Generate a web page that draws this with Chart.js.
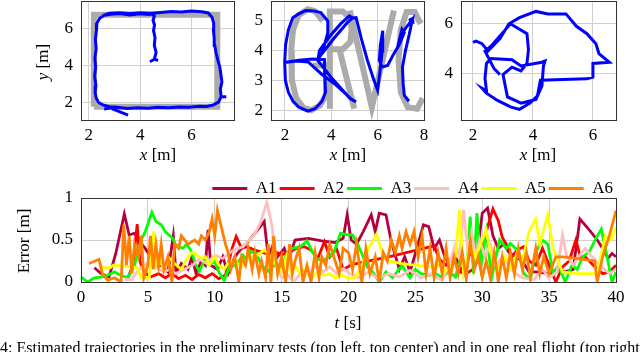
<!DOCTYPE html>
<html>
<head>
<meta charset="utf-8">
<script src="https://cdn.jsdelivr.net/npm/chart.js@4.4.0/dist/chart.umd.min.js"></script>
<style>
  body { margin: 0; width: 640px; height: 352px; overflow: hidden; background: #fff; position: relative; font-family: "Liberation Serif", serif; }
  canvas { position: absolute; }
  .lbl { position: absolute; font-size: 17px; white-space: nowrap; color: #000; transform: translate(-50%, -50%); }
  .rot { transform: translate(-50%, -50%) rotate(-90deg); }
  .cap { position: absolute; left: 0; top: 339px; font-size: 16px; white-space: nowrap; }
</style>
</head>
<body>
<canvas id="sq" width="240" height="170" style="left:0;top:0"></canvas>
<canvas id="grvc" width="200" height="170" style="left:240px;top:0"></canvas>
<canvas id="flight" width="200" height="170" style="left:440px;top:0"></canvas>
<canvas id="err" width="640" height="170" style="left:0;top:170px"></canvas>

<div class="lbl rot" style="left:43px;top:62px"><i>y</i> [m]</div>
<div class="lbl" style="left:158px;top:155px"><i>x</i> [m]</div>
<div class="lbl" style="left:348px;top:155px"><i>x</i> [m]</div>
<div class="lbl" style="left:538px;top:155px"><i>x</i> [m]</div>
<div class="lbl rot" style="left:24px;top:241px">Error [m]</div>
<div class="lbl" style="left:348px;top:323px"><i>t</i> [s]</div>
<div class="cap">4: Estimated trajectories in the preliminary tests (top left, top center) and in one real flight (top right)</div>

<script>
// ---- top left: square test ----
const sqTruthX = [2.2, 7.0, 7.0, 2.2, 2.2];
const sqTruthY = [1.75, 1.75, 6.75, 6.75, 1.75];
const sqX = [4.38, 4.55, 4.7, 4.55, 4.62, 4.55, 4.58, 4.52, 4.56, 4.50, 4.55, 4.52, 4.56, 4.50, 4.35, 4.0, 3.6, 3.2, 2.85, 2.6, 2.42, 2.32, 2.30, 2.26, 2.29, 2.24, 2.27, 2.23, 2.28, 2.25, 2.30, 2.38, 2.55, 2.8, 3.1, 3.5, 3.9, 4.3, 4.7, 5.1, 5.5, 5.9, 6.3, 6.6, 6.85, 7.05, 7.15, 7.12, 7.18, 7.14, 7.10, 7.02, 6.95, 6.9, 6.88, 6.85, 6.86, 6.8, 6.65, 6.4, 6.0, 5.6, 5.2, 4.8, 4.4, 4.0, 3.6, 3.2, 2.8, 2.55,
             null, 2.9, 3.53, null, 2.6, 3.0, null, 7.1, 7.35];
const sqY = [4.2, 4.33, 4.27, 4.33, 4.7, 5.1, 5.5, 5.9, 6.2, 6.45, 6.65, 6.72, 6.78, 6.8, 6.76, 6.8, 6.74, 6.82, 6.78, 6.72, 6.55, 6.3, 5.9, 5.4, 4.9, 4.4, 3.9, 3.4, 2.9, 2.5, 2.2, 1.98, 1.85, 1.75, 1.72, 1.66, 1.7, 1.67, 1.72, 1.7, 1.74, 1.73, 1.78, 1.76, 1.85, 2.0, 2.3, 2.7, 3.1, 3.5, 3.9, 4.3, 4.7, 5.1, 5.5, 5.9, 6.3, 6.6, 6.85, 6.92, 6.95, 6.9, 6.93, 6.88, 6.84, 6.86, 6.82, 6.86, 6.83, 6.7,
             null, 1.65, 1.3, null, 1.62, 1.72, null, 2.28, 2.3];
const sqTicksX = [2, 4, 6];
const sqTicksY = [2, 4, 6];

// ---- top center: GRVC letters ----
const grvcTruthX = [3.63, 3.3, 2.99, 2.6, 2.35, 2.27, 2.3, 2.49, 2.8, 3.13, 3.5, 3.78, 3.78, 3.2,
                    null, 3.94, 3.94, 4.5, 4.82, 4.88, 4.82, 4.5, 3.94, null, 4.35, 4.99,
                    null, 4.8, 5.75, 6.7,
                    null, 7.85, 7.6, 7.25, 7.0, 6.9, 7.0, 7.3, 7.7, 7.95];
const grvcTruthY = [5.0, 5.33, 5.39, 5.2, 4.7, 4.0, 3.0, 2.4, 2.08, 2.0, 2.15, 2.5, 3.5, 3.5,
                    null, 2.05, 5.32, 5.32, 5.1, 4.7, 4.3, 4.05, 4.05, null, 4.05, 2.05,
                    null, 5.35, 2.1, 5.35,
                    null, 4.9, 5.3, 5.3, 4.7, 3.7, 2.6, 2.1, 2.05, 2.4];
const grvcX = [3.28, 2.9, 2.56, 2.34, 2.15, 2.03, 1.99, 2.02, 2.15, 2.35, 2.6, 2.99, 3.3, 3.6, 3.75, 3.72, 3.71,
               3.2, 2.6, 1.99, 2.5, 3.0,
               3.6, 4.2, 4.9, 5.07, 4.8, 4.0, 3.42,
               3.49, 3.9, 4.4, 4.78, 4.92, 4.7, 4.1, 3.6,
               3.85, 3.85, 3.55, 3.28,
               null, 4.92, 5.07, 5.3, 5.55, 5.8, 6.0, 6.1, 6.2, 6.22, 6.12, 6.07, 6.2, 6.43, 6.7, 6.93, 7.15, 7.05, 6.95,
               7.2, 7.5, 7.35, 7.2, 7.07, 7.1, 7.15, 7.35,
               null, 7.35, 7.5, 7.53];
const grvcY = [5.33, 5.35, 5.22, 5.11, 4.7, 4.2, 3.6, 3.0, 2.6, 2.3, 2.1, 1.97, 2.05, 2.3, 2.6, 3.2, 3.7,
               3.72, 3.68, 3.6, 3.65, 3.62,
               3.2, 2.85, 2.35, 2.28, 2.4, 3.1, 3.67,
               4.0, 4.45, 4.9, 5.17, 5.1, 4.95, 4.4, 3.9,
               4.6, 5.0, 5.28, 5.33,
               null, 5.1, 5.11, 4.4, 3.7, 3.1, 2.67, 3.3, 4.0, 4.67, 4.2, 3.67, 3.45, 3.5, 3.9, 4.2, 4.61, 4.72, 4.4,
               4.75, 5.05, 4.5, 4.0, 3.44, 2.9, 2.5, 2.3,
               null, 5.02, 5.08, 4.9];
const grvcTicksX = [2, 4, 6, 8];
const grvcTicksY = [2, 3, 4, 5];

// ---- top right: real flight ----
const flightX = [2.0, 2.1, 2.3, 2.5, 2.9, 3.2, 3.55, 4.1, 4.5, 5.1, 5.45, 5.8, 6.1, 6.2, 6.55, 6.0, 6.0, 5.8, 5.0, 4.25,
                 4.15, 3.9, 3.55, 3.25, 2.8, 2.45, 2.3, 2.45, 2.4, 2.45, 2.6, 3.3, 3.6, 4.3, 4.4, 4.35, 4.3, 4.1,
                 3.6, 3.15, 3.0, 3.3, 3.6, 3.8, 3.85, 3.8, 3.25, 2.6, 2.4, 2.7, 2.9];
const flightY = [5.25, 5.3, 5.2, 4.9, 5.4, 6.0, 6.25, 6.5, 6.4, 6.4, 5.9, 5.6, 5.2, 4.8, 4.45, 4.4, 3.85, 3.78, 3.75, 3.72,
                 3.1, 2.8, 2.55, 2.65, 2.92, 3.2, 3.4, 3.3, 3.8, 4.4, 4.6, 4.55, 4.3, 4.45, 4.5, 4.3, 3.5, 2.95,
                 2.8, 3.05, 3.95, 4.25, 4.1, 4.4, 4.95, 5.6, 6.0, 5.1, 4.9, 4.2, 3.95];
const flightTicksX = [2, 4, 6];
const flightTicksY = [4, 6];

// ---- bottom: error over time ----
const seriesNames = ['A1', 'A2', 'A3', 'A4', 'A5', 'A6'];
const seriesColors = ['#b5003f', '#ff0000', '#00ff00', '#ffbfbf', '#ffff00', '#ff8000'];
const a1T = [1.0, 1.5, 2.1, 2.6, 3.24, 3.6, 3.97, 4.3, 4.6, 4.8, 5.2, 5.6, 6.0, 6.5, 6.9, 7.1, 7.5, 8.0, 8.3, 8.6, 9.0, 9.3, 9.5, 9.7, 10.2, 10.6, 11.0, 11.5, 12.0, 12.5, 13.0, 13.7, 14.0, 14.3, 14.7, 15.2, 15.5, 16.0, 17.0, 18.0, 19.0, 19.6, 19.9, 20.2, 20.6, 21.1, 21.7, 22.0, 22.3, 22.8, 23.2, 23.8, 24.2, 24.6, 25.2, 25.6, 26.0, 26.4, 26.8, 27.2, 27.6, 28.0, 28.4, 28.8, 29.2, 29.6, 30.0, 30.4, 30.8, 31.2, 31.6, 32.0, 32.5, 33.0, 33.5, 34.0, 35.0, 35.6, 36.2, 36.8, 37.3, 38.0, 38.6, 39.0, 39.4, 39.7, 40.0];
const a1V = [0.17, 0.1, 0.06, 0.34, 0.81, 0.56, 0.58, 0.52, 0.44, 0.4, 0.3, 0.18, 0.2, 0.12, 0.55, 0.1, 0.22, 0.15, 0.3, 0.1, 0.25, 0.2, 0.62, 0.2, 0.15, 0.3, 0.1, 0.3, 0.4, 0.48, 0.58, 0.72, 0.3, 0.42, 0.3, 0.4, 0.25, 0.5, 0.52, 0.49, 0.47, 0.52, 0.8, 0.5, 0.45, 0.6, 0.8, 0.6, 0.82, 0.8, 0.48, 0.15, 0.3, 0.12, 0.45, 0.68, 0.66, 0.4, 0.5, 0.3, 0.2, 0.3, 0.15, 0.2, 0.4, 0.3, 0.82, 0.88, 0.55, 0.4, 0.45, 0.35, 0.3, 0.25, 0.12, 0.12, 0.1, 0.15, 0.12, 0.15, 0.75, 0.62, 0.5, 0.4, 0.28, 0.34, 0.3];
const a2T = [3.5, 3.9, 4.2, 4.4, 4.7, 5.2, 5.8, 6.3, 6.8, 7.3, 7.8, 8.3, 8.8, 9.3, 9.8, 10.3, 10.8, 11.3, 11.6, 12.0, 12.4, 13.0, 13.6, 14.3, 14.6, 15.1, 15.6, 16.1, 16.7, 17.2, 17.7, 18.2, 18.6, 19.1, 19.6, 20.3, 23.0, 26.4, 26.8, 27.3, 27.8, 28.3, 28.8, 29.3, 29.8, 30.3, 30.8, 31.2, 31.5, 31.8, 32.2, 32.6, 33.1, 33.5, 34.0, 34.5, 35.0, 35.5, 36.0, 36.5, 37.0, 37.4, 37.7, 38.3, 39.0, 39.5, 40.0];
const a2V = [0.05, 0.2, 0.69, 0.25, 0.12, 0.06, 0.1, 0.05, 0.1, 0.04, 0.08, 0.03, 0.09, 0.05, 0.1, 0.04, 0.08, 0.4, 0.54, 0.4, 0.42, 0.38, 0.35, 0.32, 0.35, 0.33, 0.36, 0.4, 0.42, 0.38, 0.28, 0.48, 0.3, 0.4, 0.15, 0.21, 0.3, 0.43, 0.27, 0.2, 0.3, 0.12, 0.1, 0.15, 0.3, 0.6, 0.87, 0.73, 0.53, 0.45, 0.3, 0.38, 0.42, 0.25, 0.2, 0.4, 0.2, 0.0, 0.18, 0.25, 0.5, 0.26, 0.3, 0.2, 0.1, 0.12, 0.2];
const a3T = [0.0, 0.5, 1.0, 1.6, 2.0, 2.5, 2.85, 3.5, 4.0, 4.5, 4.8, 5.3, 5.6, 6.0, 6.3, 6.85, 7.1, 7.6, 7.9, 8.2, 8.6, 8.85, 9.2, 9.6, 10.0, 10.3, 10.7, 11.1, 11.6, 12.1, 12.4, 12.7, 13.1, 13.5, 14.0, 14.6, 15.0, 15.4, 15.8, 16.4, 16.9, 17.3, 17.6, 18.1, 18.5, 18.9, 19.4, 19.9, 20.3, 20.6, 21.1, 21.4, 21.8, 22.3, 22.8, 23.3, 24.0, 24.3, 24.6, 25.0, 25.4, 26.0, 26.5, 27.0, 27.5, 28.0, 28.4, 28.8, 29.1, 29.35, 29.6, 29.9, 30.3, 30.7, 31.3, 31.8, 32.1, 32.7, 33.1, 33.6, 34.0, 34.5, 34.9, 35.3, 35.7, 36.2, 36.7, 37.1, 37.5, 38.0, 38.5, 38.9, 39.3, 39.7, 40.0];
const a3V = [0.06, 0.0, 0.05, 0.06, 0.08, 0.12, 0.09, 0.05, 0.2, 0.5, 0.6, 0.83, 0.72, 0.68, 0.6, 0.52, 0.44, 0.4, 0.45, 0.38, 0.2, 0.13, 0.25, 0.2, 0.25, 0.12, 0.02, 0.18, 0.2, 0.32, 0.26, 0.36, 0.34, 0.2, 0.13, 0.22, 0.18, 0.34, 0.4, 0.42, 0.49, 0.36, 0.28, 0.25, 0.3, 0.35, 0.58, 0.56, 0.56, 0.48, 0.3, 0.18, 0.12, 0.0, 0.12, 0.05, 0.2, 0.12, 0.05, 0.15, 0.1, 0.08, 0.1, 0.05, 0.13, 0.06, 0.3, 0.05, 0.78, 0.1, 0.82, 0.2, 0.6, 0.05, 0.5, 0.4, 0.46, 0.37, 0.1, 0.03, 0.36, 0.5, 0.45, 0.1, 0.2, 0.0, 0.2, 0.15, 0.3, 0.36, 0.52, 0.63, 0.33, 0.0, 0.12];
const a4T = [3.3, 3.8, 4.1, 4.5, 4.9, 5.5, 6.2, 6.6, 7.1, 7.6, 8.35, 8.85, 9.4, 10.0, 10.6, 11.4, 12.1, 12.9, 13.4, 13.6, 13.9, 14.3, 14.5, 15.0, 15.5, 15.9, 16.4, 17.1, 17.6, 18.1, 18.6, 19.1, 19.6, 20.1, 20.8, 21.5, 22.2, 23.0, 23.8, 24.6, 25.4, 26.2, 27.0, 27.5, 28.0, 28.3, 28.6, 28.9, 29.2, 29.5, 29.8, 30.2, 30.6, 31.0, 31.5, 32.0, 32.5, 33.0, 33.9, 34.5, 35.0, 35.6, 36.0, 36.3, 36.8, 37.2, 37.7, 38.2, 38.8, 39.5, 40.0];
const a4V = [0.03, 0.03, 0.1, 0.17, 0.22, 0.18, 0.12, 0.15, 0.1, 0.14, 0.2, 0.27, 0.22, 0.32, 0.28, 0.38, 0.42, 0.55, 0.7, 0.8, 0.95, 0.65, 0.27, 0.05, 0.08, 0.0, 0.1, 0.12, 0.2, 0.12, 0.18, 0.1, 0.16, 0.1, 0.05, 0.12, 0.04, 0.1, 0.06, 0.14, 0.05, 0.1, 0.02, 0.2, 0.45, 0.3, 0.86, 0.4, 0.6, 0.3, 0.5, 0.3, 0.45, 0.2, 0.3, 0.2, 0.1, 0.05, 0.03, 0.15, 0.05, 0.12, 0.56, 0.32, 0.2, 0.3, 0.4, 0.3, 0.2, 0.1, 0.15];
const a5T = [1.5, 2.2, 2.4, 3.3, 4.2, 4.5, 5.1, 5.4, 5.6, 5.9, 6.2, 6.5, 7.0, 7.5, 8.0, 8.3, 8.6, 9.0, 9.3, 9.6, 10.0, 10.3, 10.7, 11.0, 11.5, 12.0, 12.3, 12.7, 13.2, 13.7, 14.2, 14.6, 15.0, 15.4, 15.7, 16.0, 16.4, 16.8, 17.2, 17.7, 18.2, 18.6, 19.0, 19.5, 20.0, 20.5, 21.0, 21.5, 22.1, 22.6, 23.0, 24.0, 25.0, 26.0, 26.8, 27.2, 27.7, 28.0, 28.3, 28.6, 29.1, 29.5, 30.3, 30.6, 31.0, 31.3, 31.7, 32.2, 32.6, 33.0, 33.5, 34.0, 34.3, 34.9, 35.3, 36.0, 37.0, 38.6, 39.2, 39.6, 40.0];
const a5V = [0.17, 0.17, 0.2, 0.19, 0.17, 0.05, 0.05, 0.6, 0.2, 0.25, 0.15, 0.3, 0.22, 0.15, 0.3, 0.35, 0.33, 0.28, 0.3, 0.2, 0.3, 0.2, 0.15, 0.22, 0.25, 0.18, 0.25, 0.3, 0.32, 0.38, 0.3, 0.2, 0.12, 0.32, 0.12, 0.2, 0.1, 0.15, 0.05, 0.12, 0.08, 0.1, 0.05, 0.08, 0.05, 0.05, 0.2, 0.4, 0.57, 0.3, 0.25, 0.22, 0.2, 0.18, 0.2, 0.12, 0.2, 0.3, 0.86, 0.1, 0.45, 0.3, 0.62, 0.35, 0.25, 0.15, 0.3, 0.15, 0.35, 0.25, 0.6, 0.75, 0.45, 0.8, 0.4, 0.12, 0.1, 0.1, 0.55, 0.5, 0.65];
const a6T = [0.6, 1.35, 1.6, 2.0, 2.5, 3.0, 3.2, 3.4, 3.6, 3.8, 4.0, 4.3, 4.5, 4.7, 5.0, 5.2, 5.4, 5.6, 5.8, 6.0, 6.2, 6.5, 6.8, 7.0, 7.3, 7.5, 8.0, 8.5, 8.8, 9.0, 9.3, 9.6, 9.8, 10.0, 10.2, 10.5, 10.8, 11.0, 11.2, 11.5, 11.8, 12.0, 12.3, 12.5, 12.8, 13.0, 13.3, 13.5, 13.8, 14.0, 14.2, 14.4, 14.7, 15.0, 15.3, 15.6, 15.8, 16.0, 16.3, 16.6, 16.9, 17.2, 17.5, 17.8, 18.0, 18.3, 18.6, 19.0, 19.3, 19.6, 20.0, 20.3, 20.6, 21.0, 21.3, 21.6, 22.0, 22.3, 22.6, 22.9, 23.2, 23.5, 23.8, 24.0, 24.3, 24.6, 24.9, 25.2, 25.5, 25.8, 26.1, 26.4, 26.7, 27.0, 27.3, 27.6, 27.9, 28.2, 28.5, 28.8, 29.1, 29.4, 29.7, 30.0, 30.3, 30.6, 30.9, 31.2, 31.5, 31.8, 32.1, 32.4, 32.7, 33.0, 33.3, 33.6, 34.0, 34.3, 34.6, 35.0, 35.5, 36.0, 37.0, 38.0, 38.4, 38.6, 39.0, 39.5, 40.0];
const a6V = [0.22, 0.27, 0.1, 0.02, 0.05, 0.0, 0.68, 0.2, 0.55, 0.1, 0.45, 0.3, 0.55, 0.05, 0.2, 0.55, 0.15, 0.45, 0.2, 0.45, 0.15, 0.3, 0.0, 0.45, 0.4, 0.55, 0.45, 0.5, 0.45, 0.55, 0.5, 0.6, 0.75, 0.55, 0.85, 0.65, 0.45, 0.35, 0.15, 0.3, 0.0, 0.3, 0.2, 0.4, 0.15, 0.35, 0.1, 0.25, 0.05, 0.45, 0.0, 0.55, 0.1, 0.3, 0.0, 0.45, 0.1, 0.25, 0.4, 0.0, 0.2, 0.0, 0.35, 0.05, 0.3, 0.2, 0.45, 0.25, 0.1, 0.4, 0.35, 0.15, 0.45, 0.0, 0.4, 0.1, 0.3, 0.0, 0.35, 0.25, 0.5, 0.35, 0.55, 0.4, 0.6, 0.45, 0.6, 0.3, 0.55, 0.1, 0.4, 0.05, 0.35, 0.1, 0.4, 0.05, 0.3, 0.1, 0.35, 0.05, 0.48, 0.15, 0.3, 0.05, 0.25, 0.05, 0.35, 0.0, 0.3, 0.05, 0.35, 0.1, 0.4, 0.15, 0.35, 0.05, 0.4, 0.1, 0.3, 0.1, 0.3, 0.3, 0.28, 0.26, 0.25, 0.0, 0.3, 0.55, 0.85];
const errTicksX = [0, 5, 10, 15, 20, 25, 30, 35, 40];
const errTicksY = [0, 0.5, 1];

const serifFont = { family: '"Liberation Serif", serif', size: 17 };
const gridColor = '#d0d0d0';

function toPoints(xs, ys) {
  return xs.map((x, i) => ({ x: x, y: ys[i] }));
}

const framePlugin = {
  id: 'frame',
  afterDraw(chart) {
    const { ctx, chartArea: a } = chart;
    ctx.save();
    ctx.strokeStyle = '#333';
    ctx.lineWidth = 1;
    ctx.strokeRect(Math.round(a.left) + 0.5, Math.round(a.top) + 0.5, Math.round(a.right - a.left), Math.round(a.bottom - a.top));
    ctx.restore();
  }
};

function axis(min, max, ticks, fitSize, isX) {
  return {
    type: 'linear',
    min: min,
    max: max,
    afterBuildTicks: scale => { scale.ticks = ticks.map(v => ({ value: v })); },
    afterFit: scale => {
      if (isX) scale.height = fitSize; else scale.width = fitSize;
      // no extra room for half labels at the ends
      scale.paddingTop = 0; scale.paddingBottom = 0; scale.paddingLeft = 0; scale.paddingRight = 0;
    },
    grid: { color: gridColor, drawTicks: false },
    border: { display: false },
    ticks: { font: serifFont, color: '#000', padding: isX ? 5 : 8, maxRotation: 0, callback: v => String(v) }
  };
}

function trajChart(id, datasets, xr, yr, xt, yt, yWidth, padRight) {
  new Chart(document.getElementById(id), {
    type: 'scatter',
    data: { datasets: datasets },
    options: {
      responsive: false,
      animation: false,
      devicePixelRatio: 1,
      layout: { padding: { top: 1, right: padRight, left: 0, bottom: 0 } },
      plugins: { legend: { display: false }, tooltip: { enabled: false } },
      scales: {
        x: axis(xr[0], xr[1], xt, 50, true),
        y: axis(yr[0], yr[1], yt, yWidth, false)
      }
    },
    plugins: [framePlugin]
  });
}

function blue(xs, ys) {
  return { data: toPoints(xs, ys), showLine: true, borderColor: '#0000ff', borderWidth: 3, pointRadius: 0, clip: 0, order: 1 };
}
function truth(xs, ys) {
  return { data: toPoints(xs, ys), showLine: true, borderColor: '#ababab', borderWidth: 6, pointRadius: 0, clip: 0, order: 2 };
}

trajChart('sq', [blue(sqX, sqY), truth(sqTruthX, sqTruthY)], [1.7, 7.65], [1.03, 7.5], sqTicksX, sqTicksY, 81, 6);
trajChart('grvc', [blue(grvcX, grvcY), truth(grvcTruthX, grvcTruthY)], [1.4, 8.0], [1.67, 5.67], grvcTicksX, grvcTicksY, 31, 16);
trajChart('flight', [blue(flightX, flightY)], [1.6, 6.77], [2.12, 6.92], flightTicksX, flightTicksY, 21, 24);

// Error plot
const errT = [a1T, a2T, a3T, a4T, a5T, a6T];
const errV = [a1V, a2V, a3V, a4V, a5V, a6V];
new Chart(document.getElementById('err'), {
  type: 'scatter',
  data: {
    datasets: seriesNames.map((name, i) => ({
      label: name,
      data: toPoints(errT[i], errV[i]),
      showLine: true,
      borderColor: seriesColors[i],
      backgroundColor: seriesColors[i],
      borderWidth: 2.8,
      pointRadius: 0,
      clip: 0,
      order: 6 - i
    }))
  },
  options: {
    responsive: false,
    animation: false,
    devicePixelRatio: 1,
    layout: { padding: { top: 7, right: 24, left: 0, bottom: 0 } },
    plugins: {
      tooltip: { enabled: false },
      legend: {
        position: 'top',
        align: 'end',
        maxHeight: 21,
        labels: {
          usePointStyle: true,
          pointStyle: 'line',
          pointStyleWidth: 35,
          padding: 3,
          color: '#000',
          font: serifFont,
          sort: (a, b) => a.datasetIndex - b.datasetIndex
        }
      }
    },
    scales: {
      x: axis(0, 40, errTicksX, 58, true),
      y: axis(0, 1, errTicksY, 81, false)
    }
  },
  plugins: [framePlugin]
});
</script>
</body>
</html>
